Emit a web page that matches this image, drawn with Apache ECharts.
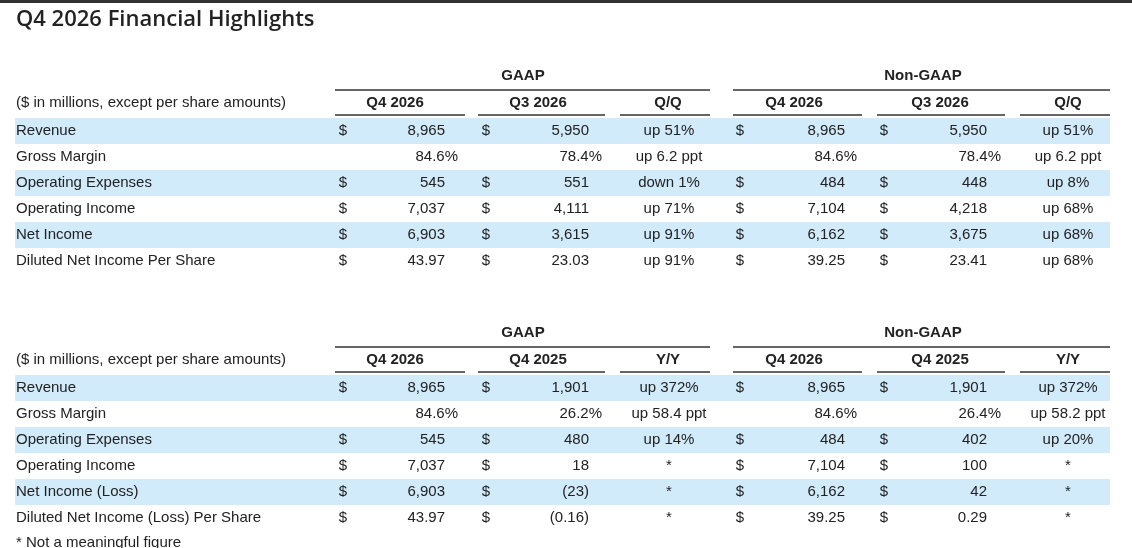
<!DOCTYPE html>
<html><head><meta charset="utf-8">
<script src="https://cdn.jsdelivr.net/npm/echarts@6/dist/echarts.min.js"></script>
<style>html,body{margin:0;padding:0;background:#fff}#cht{width:1132px;height:548px}</style>
</head><body><div id="cht"></div>
<script>
// table 1: Q4 2026 vs Q3 2026
var rowLabels1 = ['Revenue', 'Gross Margin', 'Operating Expenses', 'Operating Income', 'Net Income', 'Diluted Net Income Per Share'];
var gaapQ4 = ['8,965', '84.6%', '545', '7,037', '6,903', '43.97'];
var gaapQ3 = ['5,950', '78.4%', '551', '4,111', '3,615', '23.03'];
var gaapQQ = ['up 51%', 'up 6.2 ppt', 'down 1%', 'up 71%', 'up 91%', 'up 91%'];
var nonGaapQ4 = ['8,965', '84.6%', '484', '7,104', '6,162', '39.25'];
var nonGaapQ3 = ['5,950', '78.4%', '448', '4,218', '3,675', '23.41'];
var nonGaapQQ = ['up 51%', 'up 6.2 ppt', 'up 8%', 'up 68%', 'up 68%', 'up 68%'];
var headers1 = ['Q4 2026', 'Q3 2026', 'Q/Q', 'Q4 2026', 'Q3 2026', 'Q/Q'];

// table 2: Q4 2026 vs Q4 2025
var rowLabels2 = ['Revenue', 'Gross Margin', 'Operating Expenses', 'Operating Income', 'Net Income (Loss)', 'Diluted Net Income (Loss) Per Share'];
var gaapQ4b = ['8,965', '84.6%', '545', '7,037', '6,903', '43.97'];
var gaapQ4y = ['1,901', '26.2%', '480', '18', '(23)', '(0.16)'];
var gaapYY = ['up 372%', 'up 58.4 ppt', 'up 14%', '*', '*', '*'];
var nonGaapQ4b = ['8,965', '84.6%', '484', '7,104', '6,162', '39.25'];
var nonGaapQ4y = ['1,901', '26.4%', '402', '100', '42', '0.29'];
var nonGaapYY = ['up 372%', 'up 58.2 ppt', 'up 20%', '*', '*', '*'];
var headers2 = ['Q4 2026', 'Q4 2025', 'Y/Y', 'Q4 2026', 'Q4 2025', 'Y/Y'];

var groups = ['GAAP', 'Non-GAAP'];
var unitLabel = '($ in millions, except per share amounts)';
var title = 'Q4 2026 Financial Highlights';
var footnote = '* Not a meaningful figure';

// layout
var L = {
  dollarX: [343, 486, 740, 884],
  valRight: [445, 589, 845, 987],
  pctRight: [458, 602, 857, 1001],
  chgCenter: [669, 1068],
  headCenter: [395, 538, 668, 794, 940, 1068],
  headSeg: [[335, 465], [478, 605], [620, 710], [733, 862], [877, 1005], [1020, 1110]],
  groupCenter: [523, 923],
  groupSeg: [[335, 710], [733, 1110]],
  rowH: 26
};

var texts = [], rects = [], lines = [];
function addTable(top, labels, headers, cols) {
  texts.push([L.groupCenter[0], top, groups[0], 'center', 1]);
  texts.push([L.groupCenter[1], top, groups[1], 'center', 1]);
  L.groupSeg.forEach(function (s) { lines.push([s[0], s[1], top + 14]); });
  var hy = top + 27;
  texts.push([16, hy, unitLabel, 'left', 0]);
  headers.forEach(function (h, i) { texts.push([L.headCenter[i], hy, h, 'center', 1]); });
  L.headSeg.forEach(function (s) { lines.push([s[0], s[1], hy + 12]); });
  labels.forEach(function (lab, r) {
    var y = hy + 28 + r * L.rowH;
    if (r % 2 === 0) rects.push([15, 1110, y - 13, y + 13]);
    texts.push([16, y, lab, 'left', 0]);
    [cols[0], cols[1], cols[3], cols[4]].forEach(function (c, k) {
      var v = c[r], pct = v.indexOf('%') >= 0;
      if (!pct) texts.push([L.dollarX[k], y, '$', 'center', 0]);
      texts.push([pct ? L.pctRight[k] : L.valRight[k], y, v, 'right', 0]);
    });
    texts.push([L.chgCenter[0], y, cols[2][r], 'center', 0]);
    texts.push([L.chgCenter[1], y, cols[5][r], 'center', 0]);
  });
}
addTable(76, rowLabels1, headers1, [gaapQ4, gaapQ3, gaapQQ, nonGaapQ4, nonGaapQ3, nonGaapQQ]);
addTable(333, rowLabels2, headers2, [gaapQ4b, gaapQ4y, gaapYY, nonGaapQ4b, nonGaapQ4y, nonGaapYY]);
texts.push([16, 543, footnote, 'left', 0]);

var FONT = '"Liberation Sans", Arial, sans-serif';
var option = {
  animation: false,
  grid: { left: 0, right: 0, top: 0, bottom: 0 },
  xAxis: { type: 'value', min: 0, max: 1132, show: false },
  yAxis: { type: 'value', min: 0, max: 548, inverse: true, show: false },
  graphic: [
    { type: 'rect', shape: { x: 0, y: 0, width: 1132, height: 3 }, style: { fill: '#333' } },
    { type: 'text', left: 16, top: 9, style: { text: title, font: '600 22px "Open Sans", sans-serif', fill: '#222' } }
  ],
  series: [
    { type: 'custom', data: rects, z: 1, renderItem: function (p, api) {
        var a = api.coord([api.value(0), api.value(2)]), b = api.coord([api.value(1), api.value(3)]);
        return { type: 'rect', shape: { x: a[0], y: a[1], width: b[0] - a[0], height: b[1] - a[1] }, style: { fill: '#d1ebfb' } };
      } },
    { type: 'custom', data: lines, z: 2, renderItem: function (p, api) {
        var a = api.coord([api.value(0), api.value(2)]), b = api.coord([api.value(1), api.value(2)]);
        return { type: 'line', shape: { x1: a[0], y1: a[1], x2: b[0], y2: b[1] }, style: { stroke: '#333', lineWidth: 1.5 } };
      } },
    { type: 'custom', data: texts, z: 3, renderItem: function (p, api) {
        var d = texts[p.dataIndex], c = api.coord([d[0], d[1]]);
        return { type: 'text', x: c[0], y: c[1], style: { text: d[2], align: d[3], verticalAlign: 'middle',
          font: (d[4] ? 'bold ' : '') + '15px ' + FONT, fill: '#222' } };
      } }
  ]
};
echarts.init(document.getElementById('cht')).setOption(option);
</script></body></html>
